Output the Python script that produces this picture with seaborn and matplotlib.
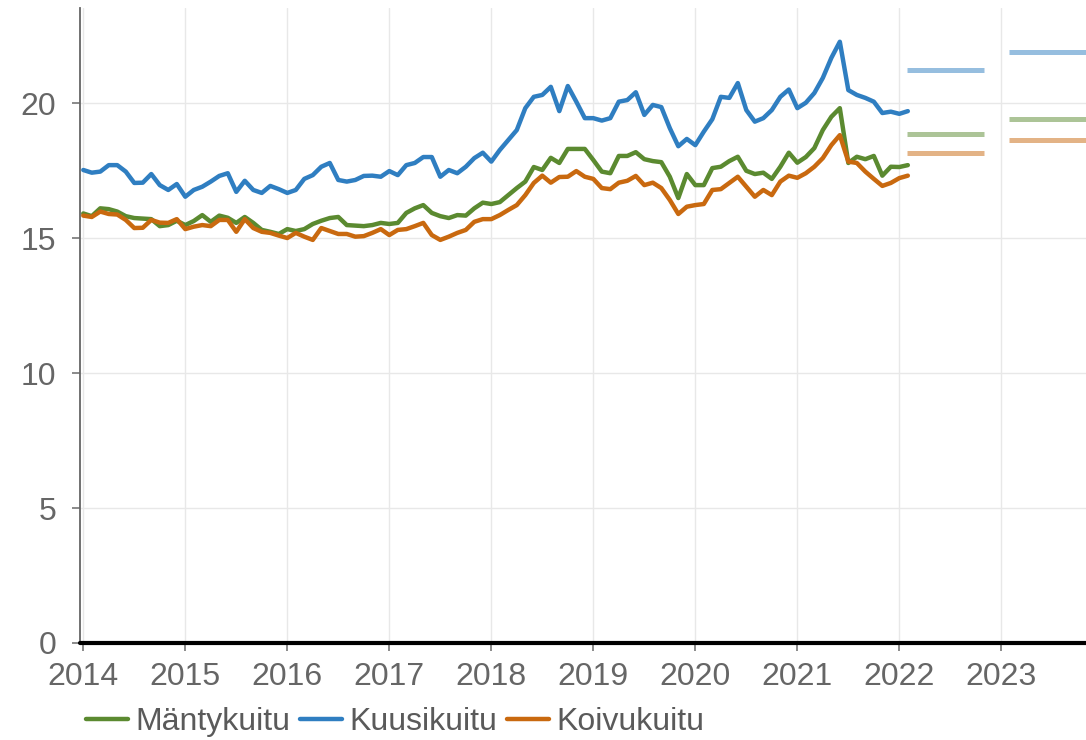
import matplotlib
matplotlib.use("Agg")
import matplotlib.pyplot as plt
import seaborn as sns
import pandas as pd
import numpy as np

# Monthly pulpwood prices, Jan 2014 - Feb 2022 (EUR/m3)
start_month = "2014-01"

manty = [
    15.91, 15.81, 16.10, 16.07, 15.98, 15.81, 15.74, 15.72, 15.70, 15.44, 15.48, 15.64,
    15.48, 15.63, 15.85, 15.60, 15.83, 15.75, 15.56, 15.78, 15.56, 15.30, 15.23, 15.15,
    15.33, 15.26, 15.33, 15.52, 15.64, 15.74, 15.78, 15.48, 15.46, 15.44, 15.48, 15.56,
    15.52, 15.56, 15.93, 16.10, 16.22, 15.93, 15.81, 15.74, 15.85, 15.83, 16.10, 16.31,
    16.26, 16.33, 16.59, 16.85, 17.09, 17.63, 17.52, 17.97, 17.78, 18.30, 18.30, 18.30,
    17.89, 17.46, 17.40, 18.04, 18.04, 18.18, 17.92, 17.85, 17.81, 17.27, 16.48, 17.37,
    16.96, 16.96, 17.59, 17.64, 17.85, 18.01, 17.49, 17.37, 17.42, 17.19, 17.64, 18.16,
    17.79, 18.00, 18.33, 19.00, 19.49, 19.81, 17.78, 18.01, 17.92, 18.04, 17.31, 17.64,
    17.63, 17.70,
]
kuusi = [
    17.52, 17.42, 17.46, 17.70, 17.70, 17.46, 17.04, 17.05, 17.37, 16.96, 16.78, 17.00,
    16.53, 16.78, 16.90, 17.09, 17.30, 17.40, 16.71, 17.12, 16.78, 16.67, 16.93, 16.81,
    16.67, 16.78, 17.19, 17.33, 17.64, 17.78, 17.15, 17.09, 17.15, 17.30, 17.31, 17.27,
    17.48, 17.33, 17.70, 17.78, 18.00, 18.00, 17.27, 17.52, 17.40, 17.64, 17.96, 18.16,
    17.83, 18.26, 18.63, 19.00, 19.81, 20.23, 20.30, 20.60, 19.70, 20.63, 20.05, 19.44,
    19.44, 19.35, 19.44, 20.05, 20.11, 20.40, 19.56, 19.93, 19.85, 19.07, 18.40, 18.67,
    18.44, 18.94, 19.40, 20.23, 20.19, 20.74, 19.74, 19.31, 19.44, 19.74, 20.23, 20.50,
    19.81, 20.01, 20.37, 20.93, 21.67, 22.27, 20.48, 20.30, 20.19, 20.05, 19.63, 19.68,
    19.60, 19.70,
]
koivu = [
    15.83, 15.78, 15.98, 15.89, 15.87, 15.67, 15.37, 15.38, 15.67, 15.57, 15.56, 15.70,
    15.33, 15.42, 15.48, 15.44, 15.67, 15.67, 15.23, 15.70, 15.37, 15.23, 15.19, 15.09,
    15.00, 15.19, 15.05, 14.93, 15.37, 15.26, 15.15, 15.15, 15.05, 15.07, 15.19, 15.33,
    15.11, 15.30, 15.33, 15.44, 15.56, 15.11, 14.93, 15.05, 15.19, 15.30, 15.60, 15.70,
    15.70, 15.85, 16.04, 16.22, 16.59, 17.04, 17.31, 17.05, 17.26, 17.27, 17.48, 17.27,
    17.19, 16.85, 16.81, 17.05, 17.12, 17.30, 16.96, 17.05, 16.85, 16.41, 15.89, 16.16,
    16.22, 16.26, 16.78, 16.81, 17.04, 17.27, 16.90, 16.53, 16.78, 16.59, 17.09, 17.31,
    17.23, 17.40, 17.64, 17.96, 18.44, 18.81, 17.83, 17.78, 17.46, 17.19, 16.93, 17.04,
    17.22, 17.31,
]

# Forecasts for 2022 and 2023
forecast_years = [2022, 2023]
manty_fc = [18.84, 19.42]
kuusi_fc = [21.22, 21.88]
koivu_fc = [18.16, 18.62]

series_names = ["Mäntykuitu", "Kuusikuitu", "Koivukuitu"]
colors = {"Mäntykuitu": "#5b8a30", "Kuusikuitu": "#2f7ec1", "Koivukuitu": "#c9690f"}
year_ticks = list(range(2014, 2024))

months = pd.date_range(start_month, periods=len(manty), freq="MS")
t = months.year + (months.month - 1) / 12
df = pd.concat([
    pd.DataFrame({"t": t, "value": vals, "series": name})
    for name, vals in zip(series_names, [manty, kuusi, koivu])
])

sns.set_theme(style="whitegrid")
plt.rcParams["font.family"] = ["Liberation Sans", "DejaVu Sans"]

W, H = 1086, 740
fig = plt.figure(figsize=(W / 100, H / 100), dpi=100)
ax = fig.add_axes([80 / W, 1 - 643 / H, 1 - 80 / W, (643 - 8) / H])

sns.lineplot(data=df, x="t", y="value", hue="series", hue_order=series_names,
             palette=colors, linewidth=3.2, ax=ax, legend=True)

# forecast segments, drawn lighter
for name, fc in zip(series_names, [manty_fc, kuusi_fc, koivu_fc]):
    for yr, v in zip(forecast_years, fc):
        ax.hlines(v, yr + 0.08, yr + 0.83, color=colors[name], alpha=0.5,
                  linewidth=3.6)

ax.axhline(0, color="black", linewidth=3, clip_on=False, zorder=5)

ax.set_xlim(2013.968, 2023.83)
ax.set_ylim(0, 23.52)
ax.set_xticks(year_ticks)
ax.set_xticklabels([str(y) for y in year_ticks])
ax.set_yticks([0, 5, 10, 15, 20])
ax.set_xlabel("")
ax.set_ylabel("")

ax.grid(True, color="#e8e8e8", linewidth=1)
for side in ["top", "right", "bottom"]:
    ax.spines[side].set_visible(False)
ax.spines["left"].set_color("#666666")
ax.spines["left"].set_linewidth(1.3)

ax.tick_params(axis="both", labelsize=23, labelcolor="#666666", color="#777777",
               length=6, width=1.2)
ax.tick_params(axis="y", pad=11, left=True)
ax.tick_params(axis="x", pad=8, bottom=True)

handles, labels = ax.get_legend_handles_labels()
ax.get_legend().remove()
fig.legend(handles, labels, loc="center left", bbox_to_anchor=(86 / W, 1 - 722 / H),
           ncol=3, frameon=False, fontsize=23, handlelength=1.3, handletextpad=0.25,
           columnspacing=0.3, borderpad=0, borderaxespad=0, labelcolor="#5a5a5a")

fig.savefig("out.png", dpi=100)
